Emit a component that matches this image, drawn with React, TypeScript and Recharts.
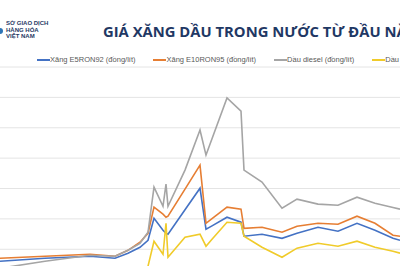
import { LineChart, Line, XAxis, YAxis, CartesianGrid, Legend } from 'recharts';

// Ngày tính từ đầu kỳ
const days = [0, 45, 90, 115, 128, 140, 148, 154, 163, 166, 168, 185, 200, 206, 212, 227, 241, 244, 262, 282, 297, 318, 338, 357, 375, 393, 400];

// Giá (đồng)
const e5Ron92 = [17210, 17410, 17540, 17410, 17740, 18130, 18590, 20040, 19250, 19050, 18990, 20600, 22020, 19320, 19540, 20110, 19780, 18860, 18990, 18720, 19050, 19450, 19190, 19710, 19250, 18720, 18590];
const e10Ron95 = [17410, 17540, 17670, 17540, 17930, 18460, 19050, 20770, 20310, 20110, 20180, 21960, 23540, 19710, 20020, 20770, 20640, 19380, 19450, 19120, 19520, 19710, 19650, 20180, 19710, 18920, 18860];
const diesel = [16750, 17210, 17600, 17540, 17930, 18390, 19120, 22090, 20830, 22290, 20830, 23210, 25850, 24200, 25270, 27960, 27100, 23210, 22420, 20700, 21300, 20970, 20900, 21430, 21030, 20750, 20640];
const mazut = [14970, 15160, 15360, 15360, 15630, 15950, 16880, 18530, 17670, 19710, 17470, 18790, 18990, 18200, 18660, 19780, 19710, 18860, 18130, 17470, 18070, 18390, 18200, 18530, 18130, 17870, 17740];

const seriesNames = [
  'Xăng E5RON92 (đồng/lít)',
  'Xăng E10RON95 (đồng/lít)',
  'Dầu diesel (đồng/lít)',
  'Dầu mazut (đồng/kg)',
];

const priceTicks = [14000, 16000, 18000, 20000, 22000, 24000, 26000, 28000, 30000];

const COLORS = ['#4472C4', '#E67E33', '#A5A5A5', '#F0CB2A'];

const data = days.map((d, i) => ({
  day: d,
  e5: e5Ron92[i],
  e10: e10Ron95[i],
  diesel: diesel[i],
  mazut: mazut[i],
}));

const keys = ['e5', 'e10', 'diesel', 'mazut'];

const renderLegend = ({ payload }: any) => {
  // keep series order, not alphabetical
  const items = [...(payload || [])].sort(
    (a: any, b: any) => seriesNames.indexOf(a.value) - seriesNames.indexOf(b.value)
  );
  return (
    <div
      style={{
        display: 'flex',
        whiteSpace: 'nowrap',
        fontFamily: '"Liberation Sans", Arial, sans-serif',
        fontSize: 7.5,
        lineHeight: '10px',
        color: '#595959',
      }}
    >
      {items.map((entry: any) => (
        <span key={entry.value} style={{ display: 'flex', alignItems: 'center', marginRight: 18 }}>
          <span style={{ display: 'inline-block', width: 13, height: 1.5, background: entry.color }} />
          {entry.value}
        </span>
      ))}
    </div>
  );
};

export default function App() {
  return (
    <div
      style={{
        position: 'fixed',
        top: 0,
        left: 0,
        width: 400,
        height: 266,
        overflow: 'hidden',
        background: '#fff',
      }}
    >
      {/* logo */}
      <div
        style={{
          position: 'absolute',
          left: 0,
          top: 28,
          width: 3,
          height: 6,
          background: '#2e75b6',
          borderRadius: '0 3px 3px 0',
        }}
      />
      <div
        style={{
          position: 'absolute',
          left: 6,
          top: 20,
          fontFamily: '"Liberation Sans", Arial, sans-serif',
          fontSize: 6,
          lineHeight: '6.5px',
          fontWeight: 700,
          color: '#1f3864',
          whiteSpace: 'nowrap',
        }}
      >
        <div>SỞ GIAO DỊCH</div>
        <div>HÀNG HÓA</div>
        <div>VIỆT NAM</div>
      </div>
      <div
        style={{
          position: 'absolute',
          left: 103,
          top: 24,
          fontFamily: '"Open Sans", sans-serif',
          fontSize: 14.8,
          lineHeight: '14.5px',
          fontWeight: 700,
          color: '#1f3864',
          whiteSpace: 'nowrap',
        }}
      >
        GIÁ XĂNG DẦU TRONG NƯỚC TỪ ĐẦU NĂM 2022
      </div>

      <LineChart width={400} height={320} data={data} margin={{ top: 67, right: 0, bottom: 10, left: 0 }}>
        <CartesianGrid vertical={false} stroke="#e4e4e4" />
        <XAxis dataKey="day" type="number" domain={[0, 400]} hide />
        <YAxis domain={[14000, 30000]} ticks={priceTicks} hide />
        <Legend
          verticalAlign="middle"
          align="center"
          content={renderLegend}
          wrapperStyle={{ top: 55, left: 37, width: 600 }}
        />
        {keys.map((k, i) => (
          <Line
            key={k}
            dataKey={k}
            name={seriesNames[i]}
            type="linear"
            stroke={COLORS[i]}
            strokeWidth={1.6}
            dot={false}
            isAnimationActive={false}
          />
        ))}
      </LineChart>
    </div>
  );
}
